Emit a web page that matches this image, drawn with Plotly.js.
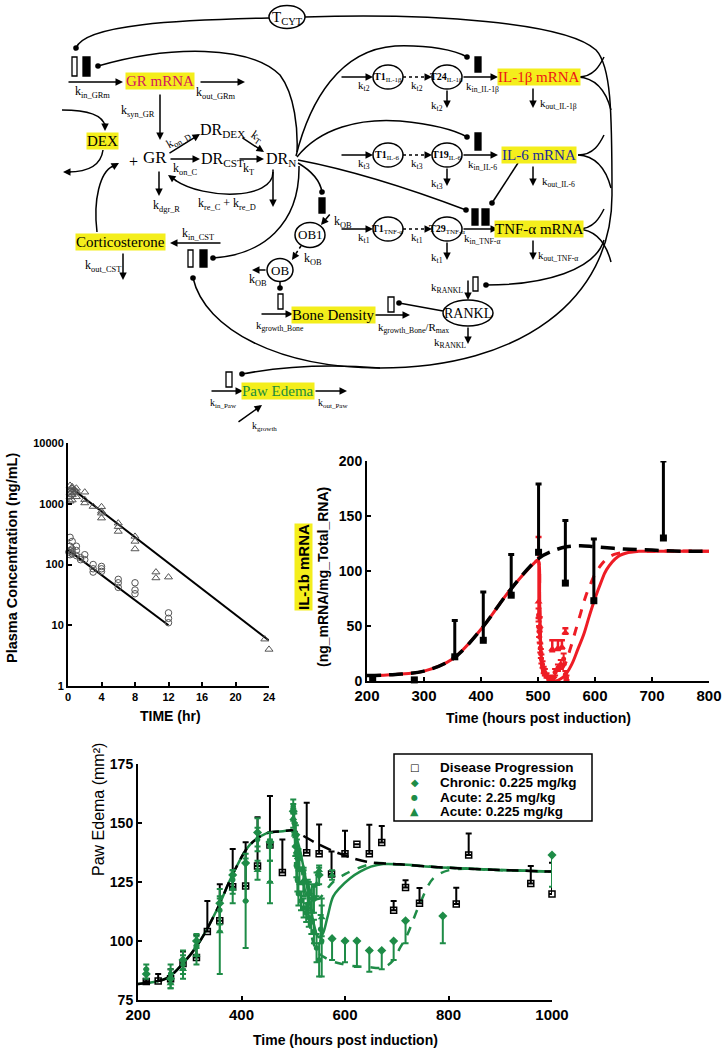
<!DOCTYPE html>
<html>
<head>
<meta charset="utf-8">
<script src="https://cdn.plot.ly/plotly-3.0.1.min.js"></script>
<style>
  html, body { margin: 0; padding: 0; background: white; }
  #plot { width: 726px; height: 1050px; }
</style>
</head>
<body>
<div id="plot"></div>
<script>
// ---- Plasma concentration (DEX PK) ----
const pkTimeHigh = [0.25, 0.25, 0.25, 0.25, 0.5, 0.5, 0.5, 0.5, 0.5, 0.75, 0.75, 1, 1, 1, 2, 2, 2, 3, 4, 4, 4, 4, 6, 6, 6, 8, 8, 8, 10.5, 10.5, 12, 23.5, 24];
const pkConcHigh = [1100, 1500, 2000, 1300, 1600, 1800, 1900, 1400, 1150, 1700, 1500, 1800, 1600, 1300, 1550, 1170, 1030, 900, 890, 700, 580, 750, 480, 420, 350, 290, 240, 180, 75, 60, 62, 5.9, 4.0];
const pkTimeLow = [0.1, 0.25, 0.25, 0.25, 0.25, 0.5, 0.5, 0.5, 0.5, 1, 1, 1, 1.5, 1.5, 2, 2, 3, 3, 3, 4, 4, 4, 6, 6, 6, 8, 8, 8, 12, 12, 12];
const pkConcLow = [160, 280, 200, 170, 145, 240, 180, 160, 150, 200, 170, 140, 120, 130, 145, 120, 100, 85, 75, 93, 85, 77, 57, 50, 42, 50, 38, 33, 16, 13, 11];
const pkFitHighT = [0.4, 24];
const pkFitHighC = [1810, 5.6];
const pkFitLowT = [0, 12];
const pkFitLowC = [174, 10];
const pkTicks = [1, 10, 100, 1000, 10000];

// ---- IL-1b mRNA ----
const ilTime = [210, 283, 354, 404, 453, 501, 548, 598, 720];
const ilMean = [2, 1, 22, 37, 78, 117, 89, 73, 130];
const ilErrUp = [2, 1, 33, 44, 37, 62, 57, 56, 70];
const ilModelT = [200, 250, 300, 350, 400, 450, 500, 525, 550, 575, 600, 650, 700, 750, 800];
const ilModelV = [5, 6, 9, 20, 47, 82, 111, 118, 122, 123, 122, 120, 119, 118, 118];
const ilSolidT = [200, 250, 300, 350, 400, 450, 495, 500, 503, 506, 510, 520, 530, 540, 550, 560, 570, 580, 590, 600, 610, 620, 640, 660, 680, 700, 800];
const ilSolidV = [5, 6, 9, 20, 47, 82, 108, 110, 70, 20, 6, 1, 0, 2, 7, 16, 29, 42, 59, 75, 89, 101, 113, 117, 118, 118, 118];
const ilDashT = [495, 500, 503, 506, 510, 520, 525, 535, 548, 557, 566, 575, 583, 592, 601, 613, 625, 640, 654, 700, 800];
const ilDashV = [108, 110, 70, 20, 6, 1, 1, 6, 16, 30, 46, 62, 76, 88, 98, 107, 113, 116, 117, 118, 118];
const ilTriT = [501, 503, 525, 535, 542, 548];
const ilTriV = [72, 50, 29, 30, 31, 44];
const ilTriErr = [59, 8, 8, 7, 6, 4];
const ilCircT = [501, 502, 503, 504, 505, 506, 508, 510, 512, 515, 520, 525, 530, 535, 540, 545, 548, 550];
const ilCircV = [60, 45, 40, 30, 25, 20, 15, 10, 8, 5, 3, 2, 8, 12, 15, 20, 6, 3];
const ilCircErr = [6, 5, 5, 4, 4, 4, 3, 3, 3, 2, 2, 2, 3, 3, 4, 5, 3, 2];

// ---- Paw edema ----
const dpTime = [216, 239, 263, 287, 313, 334, 358, 383, 408, 431, 455, 479, 526, 550, 574, 600, 623, 647, 671, 694, 717, 744, 815, 839, 959, 1000];
const dpVal = [82.8, 83, 84, 90.5, 93, 104, 108.6, 123, 123.3, 131.8, 140.7, 129, 137.4, 137, 128.4, 137, 141, 137, 141.7, 113, 122.7, 116, 115.7, 136.4, 124.4, 119.9];
const dpErr = [1, 3, 4, 5, 9.5, 13, 15.4, 16, 18.5, 20.6, 20.7, 14, 21.2, 12.4, 9.5, 9.7, 0, 12.3, 7, 4, 3, 6.5, 6.9, 9.2, 7.4, 13.3];

const chTime = [216, 263, 287, 313, 358, 383, 408, 431, 455, 500, 505, 510, 520, 530, 540, 550, 575, 600, 623, 647, 671, 694, 717, 789, 1000];
const chVal = [86, 84, 92, 100, 116, 128, 133, 146, 142, 155, 145, 135, 125, 120, 118, 128, 101, 100, 100, 96, 96, 100, 108.6, 110.6, 136.4];
const chErrUp = [2, 4, 4, 3, 2, 2, 2, 6, 1, 3, 4, 4, 5, 5, 5, 3, 0, 0, 0, 0, 0, 0, 0, 0, 0];
const chErrDn = [2, 4, 4, 3, 12, 8, 16, 6, 17, 4, 5, 5, 6, 6, 6, 4, 9, 9, 11, 9, 8, 8, 9.6, 11.6, 13.4];

const a2Time = [216, 263, 287, 313, 358, 383, 408, 431, 455, 500, 502, 504, 506, 508, 510, 515, 520, 525, 530, 535, 540, 545, 550, 553, 555];
const a2Val = [88, 86, 90, 98, 113, 126, 117, 143, 140, 157, 150, 140, 132, 126, 120, 117, 114, 112, 110, 108, 104, 97, 92, 105, 100];
const a2Err = [2, 4, 4, 4, 6, 4, 20, 5, 6, 3, 4, 4, 5, 5, 5, 4, 4, 4, 4, 5, 5, 6, 7, 6, 15];

const a0Time = [263, 287, 313, 358, 383, 431, 455, 500, 503, 507, 512, 520, 528, 536, 545, 550, 555, 575];
const a0Val = [82, 88, 94, 104, 122, 130, 125, 152, 145, 138, 130, 125, 120, 118, 124, 130, 110, 128];
const a0Err = [2, 4, 4, 18, 6, 4, 9, 4, 5, 5, 6, 6, 6, 6, 5, 2, 8, 2];

const dpModelT = [200, 255, 287, 319, 352, 384, 416, 448, 480, 500, 520, 545, 590, 642, 706, 765, 803, 900, 1000];
const dpModelV = [81.8, 84.2, 90.5, 99.7, 113, 128.7, 140.7, 145.6, 146.5, 146.8, 144.5, 141.4, 137, 133.6, 132.5, 131.5, 131, 130.1, 129.4];
const gSolidT = [200, 255, 287, 319, 352, 384, 416, 448, 480, 500, 510, 520, 530, 540, 547, 552, 558, 566, 577, 590, 610, 630, 650, 674, 706, 765, 803, 900, 1000];
const gSolidV = [81.8, 84.2, 90.5, 99.7, 113, 128.7, 140.7, 145.6, 146.5, 146.5, 141, 131, 119, 107, 102, 101.5, 103.5, 110, 118.8, 122.5, 126.6, 129.5, 131.5, 132.6, 132.5, 131.5, 131, 130.1, 129.4];
const gDashUpT = [500, 510, 520, 530, 540, 550, 560, 577, 600, 616, 640, 661, 700, 800, 1000];
const gDashUpV = [146.5, 140, 131, 123, 118, 118, 120.5, 125, 128.3, 130, 132, 133, 132.5, 131, 129.4];
const gDashLoT = [500, 510, 520, 530, 539, 548, 558, 574, 590, 610, 642, 674, 694, 706, 719, 745, 771, 803, 900, 1000];
const gDashLoV = [146.5, 138, 125, 110, 99, 95, 93.4, 91.5, 90.5, 89.5, 89, 88.8, 92, 97, 102, 116, 126.6, 130.1, 130, 129.4];

const legendNames = ['Disease Progression', 'Chronic: 0.225 mg/kg', 'Acute: 2.25 mg/kg', 'Acute: 0.225 mg/kg'];

// ---- helpers for the scheme (pixel coords -> paper) ----
const W = 726, H = 1050;
const fx = x => x / W;
const fy = y => 1 - y / H;
const shapes = [];
const annotations = [];
const SERIF = 'Liberation Serif';
const SANS = 'Liberation Sans';
const YELLOW = '#f4ee1c';
const GREEN = '#1e8c47';
const RED = '#ee1c25';

function line(x0, y0, x1, y1, dash) {
    shapes.push({type: 'line', xref: 'paper', yref: 'paper', x0: fx(x0), y0: fy(y0), x1: fx(x1), y1: fy(y1),
        line: {color: 'black', width: 1.5, dash: dash || 'solid'}});
}
function curve(d) {
    const p = d.replace(/(-?[\d.]+),(-?[\d.]+)/g, (m, a, b) => fx(+a).toFixed(5) + ',' + fy(+b).toFixed(5));
    shapes.push({type: 'path', xref: 'paper', yref: 'paper', path: p, line: {color: 'black', width: 1.5}});
}
function arrow(x0, y0, x1, y1) {
    annotations.push({xref: 'paper', yref: 'paper', x: fx(x1), y: fy(y1), ax: x0 - x1, ay: y0 - y1,
        text: '', showarrow: true, arrowhead: 2, arrowsize: 1, arrowwidth: 1.5, arrowcolor: 'black', standoff: 0});
}
function dot(x, y) {
    const r = 2.8;
    shapes.push({type: 'circle', xref: 'paper', yref: 'paper', x0: fx(x - r), x1: fx(x + r), y0: fy(y + r), y1: fy(y - r),
        fillcolor: 'black', line: {color: 'black', width: 0}});
}
function bar(x0, y0, x1, y1, filled) {
    shapes.push({type: 'rect', xref: 'paper', yref: 'paper', x0: fx(x0), x1: fx(x1), y0: fy(y1), y1: fy(y0),
        fillcolor: filled ? 'black' : 'white', line: {color: 'black', width: 1.3}});
}
function ellipse(cx, cy, rx, ry) {
    shapes.push({type: 'circle', xref: 'paper', yref: 'paper', x0: fx(cx - rx), x1: fx(cx + rx), y0: fy(cy + ry), y1: fy(cy - ry),
        fillcolor: 'white', line: {color: 'black', width: 1.5}});
}
function label(x, y, text, size, extra) {
    annotations.push(Object.assign({xref: 'paper', yref: 'paper', x: fx(x), y: fy(y), text: text, showarrow: false,
        xanchor: 'center', yanchor: 'middle', font: {family: SERIF, size: size || 12, color: 'black'}}, extra || {}));
}
function box(x, y, text, color) {
    label(x, y, text, 15, {bgcolor: YELLOW, borderpad: 0, font: {family: SERIF, size: 15, color: color}});
}

// T_CYT node
curve('M 269,18 C 180,20 85,24 76,48');
dot(76, 48);
curve('M 305,17 C 430,13 565,22 596,50 C 611,66 612,110 612,195');
ellipse(287, 17, 18, 11.5);
label(287, 18, 'T<sub>CYT</sub>', 15);

// GR mRNA / receptor part
bar(72, 57, 77, 76, false);
bar(83, 57, 90, 76, true);
dot(98, 66);
curve('M 98,66 C 170,45 250,45 280,75 C 295,95 298,130 297,152');
arrow(67, 82, 123, 82);
label(93, 92, 'k<sub>in_GRm</sub>');
box(160, 81, 'GR mRNA', '#d3145f');
arrow(199, 82, 245, 82);
label(216, 93, 'k<sub>out_GRm</sub>');
arrow(160, 93, 160, 140);
label(138, 111, 'k<sub>syn_GR</sub>');
box(102, 141, 'DEX', 'black');
curve('M 62,110 C 90,110 103,116 105,126');
arrow(105, 122, 105, 131);
curve('M 103,150 C 101,165 88,172 68,172');
arrow(72, 172, 63, 172);
label(133, 161, '+', 16);
label(155, 158, 'GR', 17);
arrow(168, 154, 200, 134);
label(178, 140, 'k<sub>on_D</sub>', 12, {textangle: -30});
label(222, 131, 'DR<sub>DEX</sub>', 16);
arrow(241, 137, 264, 152);
label(256, 137, 'k<sub>T</sub>', 12, {textangle: 35});
arrow(169, 159, 200, 159);
label(186, 169, 'k<sub>on_C</sub>');
label(222, 159, 'DR<sub>CST</sub>', 16);
arrow(238, 159, 264, 159);
label(248, 169, 'k<sub>T</sub>');
label(281, 159, 'DR<sub>N</sub>', 16);
arrow(159, 170, 159, 196);
label(166, 206, 'k<sub>dgr_R</sub>');
label(227, 204, 'k<sub>re_C</sub> + k<sub>re_D</sub>');
arrow(273, 168, 273, 207);
curve('M 273,172 C 273,200 205,200 175,180');
arrow(178, 182, 168, 175);

// corticosterone
box(120, 242, 'Corticosterone', 'black');
arrow(222, 243, 170, 243);
label(198, 234, 'k<sub>in_CST</sub>');
bar(188, 250, 193, 267, false);
bar(200, 250, 207, 267, true);
dot(213, 258);
curve('M 213,258 C 262,255 300,225 299,166');
dot(193, 278);
curve('M 193,278 C 205,330 280,368 380,368 C 520,368 612,300 612,195');
curve('M 97,232 C 93,200 100,172 113,166');
arrow(110, 168, 119, 163);
label(103, 266, 'k<sub>out_CST</sub>');
arrow(123, 252, 123, 280);

// osteoblasts, bone, RANKL
curve('M 298,163 C 310,170 320,180 322,192');
dot(322, 192);
bar(319, 198, 325, 213, true);
arrow(331, 213, 321, 225);
label(343, 222, 'k<sub>OB</sub>');
ellipse(310, 235, 15, 12.5);
label(310, 235, 'OB1', 13);
line(301, 246, 295, 255, 'dot');
arrow(296, 254, 292, 260);
label(313, 259, 'k<sub>OB</sub>');
ellipse(280, 270, 13, 11.5);
label(280, 270, 'OB', 13);
arrow(267, 270, 252, 270);
label(258, 280, 'k<sub>OB</sub>');
line(280, 282, 280, 288);
dot(280, 288);
bar(278, 294, 283, 309, false);
arrow(260, 314, 293, 314);
label(280, 326, 'k<sub>growth_Bone</sub>', 11);
box(333, 315, 'Bone Density', 'black');
arrow(374, 315, 410, 315);
label(413, 328, 'k<sub>growth_Bone</sub>/R<sub>max</sub>', 11);
bar(388, 297, 394, 312, false);
dot(399, 303);
line(399, 303, 443, 311);
ellipse(468, 313, 25, 13);
label(468, 313, 'RANKL', 14);
bar(473, 277, 478, 291, false);
dot(486, 285);
curve('M 486,285 C 545,285 595,270 604,240');
arrow(468, 279, 468, 300);
label(447, 288, 'k<sub>RANKL</sub>', 11);
arrow(468, 326, 468, 344);
label(450, 343, 'k<sub>RANKL</sub>', 11);

// DR_N fan to cytokine transcription
curve('M 296,156 C 310,100 340,50 395,46 C 430,45 455,50 467,57');
curve('M 297,157 C 320,128 360,118 400,121 C 430,124 455,130 467,137');
curve('M 298,160 C 340,168 400,185 466,210');

// cytokine transit chains
const rowY = [77, 155, 229];
const rowLast = ['T24', 'T19', 'T29'];
const rowSub = ['IL-1β', 'IL-6', 'TNF-α'];
const rowK = ['t2', 't3', 't1'];
const rowName = ['IL-1β mRNA', 'IL-6 mRNA', 'TNF-α mRNA'];
const rowColor = ['#ee1515', '#1b2a9a', 'black'];
rowY.forEach((y, i) => {
    const k = 'k<sub>' + rowK[i] + '</sub>';
    arrow(340, y, 373, y);
    label(364, y + 9, k, 11);
    line(403, y, 427, y, 'dot');
    arrow(425, y, 432, y);
    label(417, y + 9, k, 11);
    arrow(447, y + 12, 447, y + 31);
    label(437, y + 29, k, 11);
    arrow(462, y, 498, y);
    label(482, y + 10, 'k<sub>in_' + rowSub[i] + '</sub>', 11);
    arrow(533, y + 10, 533, y + 31);
    label(558, y + 27, 'k<sub>out_' + rowSub[i] + '</sub>', 11);
    curve(`M 578,${y} C 594,${y} 600,${y - 12} 604,${y - 20}`);
    curve(`M 578,${y} C 596,${y + 1} 606,${y + 14} 611,${y + 33}`);
    ellipse(388, y, 15, 12);
    label(388, y, '<b>T1</b><sub>' + rowSub[i] + '</sub>', 10);
    ellipse(447, y, 15, 12);
    label(447, y, '<b>' + rowLast[i] + '</b><sub>' + rowSub[i] + '</sub>', 10);
    box(539, y, rowName[i], rowColor[i]);
});
bar(475, 57, 481, 72, true);
dot(467, 57);
bar(475, 133, 481, 150, true);
dot(467, 137);
bar(472, 209, 478, 225, true);
bar(482, 209, 489, 225, true);
dot(466, 210);
dot(492, 203);
line(518, 163, 492, 203);

// paw edema
bar(226, 372, 232, 387, false);
dot(242, 374);
curve('M 242,374 C 285,366 330,364 380,368');
arrow(210, 391, 243, 391);
label(223, 403, 'k<sub>in_Paw</sub>', 10);
box(278, 391, 'Paw Edema', '#1a8c3c');
arrow(314, 391, 347, 391);
label(333, 403, 'k<sub>out_Paw</sub>', 10);
arrow(237, 423, 262, 405);
label(264, 426, 'k<sub>growth</sub>', 10);

// ---- chart titles ----
function title(x, y, text, size, extra) {
    annotations.push(Object.assign({xref: 'paper', yref: 'paper', x: fx(x), y: fy(y), text: text, showarrow: false,
        xanchor: 'center', yanchor: 'middle', font: {family: SANS, size: size, color: 'black', weight: 'bold'}}, extra || {}));
}
title(170, 716, 'TIME (hr)', 14);
title(12, 558, 'Plasma Concentration (ng/mL)', 14.5, {textangle: -90});
title(303, 567, 'IL-1b mRNA', 15, {textangle: -90, bgcolor: YELLOW, borderpad: 0});
title(323, 577, '(ng_mRNA/mg_Total_RNA)', 14, {textangle: -90});
title(538, 718, 'Time (hours post induction)', 14);
title(345, 1040, 'Time (hours post induction)', 14);
annotations.push({xref: 'paper', yref: 'paper', x: fx(88), y: fy(878), text: 'Paw Edema (mm²)', showarrow: false,
    textangle: -90, font: {family: SANS, size: 16, color: 'black'}});

// ---- legend of the paw edema panel (drawn as a box of text rows) ----
shapes.push({type: 'rect', xref: 'paper', yref: 'paper', x0: fx(394), x1: fx(592), y0: fy(821), y1: fy(754),
    fillcolor: 'white', line: {color: 'black', width: 1.5}});
const legendGlyphs = ['□', '◆', '●', '▲'];
const legendGlyphColor = ['black', GREEN, GREEN, GREEN];
const legendGlyphSize = [10, 10, 8, 11];
const legendRowY = [767, 782, 797, 811];
legendNames.forEach((name, i) => {
    annotations.push({xref: 'paper', yref: 'paper', x: fx(415), y: fy(legendRowY[i]), text: legendGlyphs[i], showarrow: false,
        xanchor: 'center', yanchor: 'middle', font: {family: 'DejaVu Sans', size: legendGlyphSize[i], color: legendGlyphColor[i], weight: 'bold'}});
    annotations.push({xref: 'paper', yref: 'paper', x: fx(438), y: fy(legendRowY[i]), text: name, showarrow: false,
        xanchor: 'left', yanchor: 'middle', font: {family: SANS, size: 13.5, color: 'black', weight: 'bold'}});
});

// ---- traces ----
const noLeg = {showlegend: false, hoverinfo: 'skip'};

const data = [
    // plasma
    Object.assign({x: pkFitHighT, y: pkFitHighC, mode: 'lines', line: {color: 'black', width: 2}, xaxis: 'x', yaxis: 'y'}, noLeg),
    Object.assign({x: pkFitLowT, y: pkFitLowC, mode: 'lines', line: {color: 'black', width: 2}, xaxis: 'x', yaxis: 'y'}, noLeg),
    Object.assign({x: pkTimeHigh, y: pkConcHigh, mode: 'markers', cliponaxis: false,
        marker: {symbol: 'triangle-up-open', size: 7, color: '#555', line: {width: 1}}, xaxis: 'x', yaxis: 'y'}, noLeg),
    Object.assign({x: pkTimeLow, y: pkConcLow, mode: 'markers', cliponaxis: false,
        marker: {symbol: 'circle-open', size: 6.5, color: '#555', line: {width: 1}}, xaxis: 'x', yaxis: 'y'}, noLeg),

    // IL-1b
    Object.assign({x: ilSolidT, y: ilSolidV, mode: 'lines', line: {color: RED, width: 3, shape: 'spline'}, xaxis: 'x2', yaxis: 'y2'}, noLeg),
    Object.assign({x: ilDashT, y: ilDashV, mode: 'lines', line: {color: RED, width: 3, dash: 'dash', shape: 'spline'}, xaxis: 'x2', yaxis: 'y2'}, noLeg),
    Object.assign({x: ilCircT, y: ilCircV, mode: 'markers', cliponaxis: false,
        marker: {symbol: 'circle', size: 5, color: RED},
        error_y: {type: 'data', symmetric: false, array: ilCircErr, arrayminus: ilCircErr, color: RED, thickness: 2, width: 3},
        xaxis: 'x2', yaxis: 'y2'}, noLeg),
    Object.assign({x: ilTriT, y: ilTriV, mode: 'markers', cliponaxis: false,
        marker: {symbol: 'triangle-up', size: 7, color: RED},
        error_y: {type: 'data', symmetric: false, array: ilTriErr, arrayminus: ilTriErr.map(v => v / 4), color: RED, thickness: 2.5, width: 3},
        xaxis: 'x2', yaxis: 'y2'}, noLeg),
    Object.assign({x: ilModelT, y: ilModelV, mode: 'lines', line: {color: 'black', width: 3.5, dash: '14px,8px', shape: 'spline'}, xaxis: 'x2', yaxis: 'y2'}, noLeg),
    Object.assign({x: ilTime, y: ilMean, mode: 'markers', cliponaxis: false,
        marker: {symbol: 'square', size: 7, color: 'black'},
        error_y: {type: 'data', symmetric: false, array: ilErrUp, arrayminus: ilErrUp.map(() => 0), color: 'black', thickness: 3, width: 3},
        xaxis: 'x2', yaxis: 'y2'}, noLeg),

    // paw edema lines
    Object.assign({x: gSolidT, y: gSolidV, mode: 'lines', line: {color: GREEN, width: 2.5, shape: 'spline'}, xaxis: 'x3', yaxis: 'y3'}, noLeg),
    Object.assign({x: gDashUpT, y: gDashUpV, mode: 'lines', line: {color: GREEN, width: 2.5, dash: 'dash', shape: 'spline'}, xaxis: 'x3', yaxis: 'y3'}, noLeg),
    Object.assign({x: gDashLoT, y: gDashLoV, mode: 'lines', line: {color: GREEN, width: 2.5, dash: 'dash', shape: 'spline'}, xaxis: 'x3', yaxis: 'y3'}, noLeg),
    Object.assign({x: dpModelT, y: dpModelV, mode: 'lines', line: {color: 'black', width: 2.5, dash: '12px,7px', shape: 'spline'}, xaxis: 'x3', yaxis: 'y3'}, noLeg),

    // paw edema markers
    Object.assign({x: dpTime, y: dpVal, mode: 'markers', name: legendNames[0], cliponaxis: false,
        marker: {symbol: 'square-open', size: 6, color: 'black', line: {width: 1.5}},
        error_y: {type: 'data', symmetric: false, array: dpErr, arrayminus: dpErr.map(() => 0), color: 'black', thickness: 2, width: 3},
        xaxis: 'x3', yaxis: 'y3'}, noLeg),
    Object.assign({x: chTime, y: chVal, mode: 'markers', name: legendNames[1], cliponaxis: false,
        marker: {symbol: 'diamond', size: 7, color: GREEN},
        error_y: {type: 'data', symmetric: false, array: chErrUp, arrayminus: chErrDn, color: GREEN, thickness: 2, width: 3},
        xaxis: 'x3', yaxis: 'y3'}, noLeg),
    Object.assign({x: a2Time, y: a2Val, mode: 'markers', name: legendNames[2], cliponaxis: false,
        marker: {symbol: 'circle', size: 5.5, color: GREEN},
        error_y: {type: 'data', array: a2Err, color: GREEN, thickness: 2, width: 3},
        xaxis: 'x3', yaxis: 'y3'}, noLeg),
    Object.assign({x: a0Time, y: a0Val, mode: 'markers', name: legendNames[3], cliponaxis: false,
        marker: {symbol: 'triangle-up', size: 7, color: GREEN},
        error_y: {type: 'data', array: a0Err, color: GREEN, thickness: 2, width: 3},
        xaxis: 'x3', yaxis: 'y3'}, noLeg)
];

// ---- axes ----
function axis(extra, fontSize) {
    return Object.assign({
        showline: true, linecolor: 'black', linewidth: 2, ticks: 'inside', ticklen: 4, tickwidth: 2, tickcolor: 'black',
        showgrid: false, zeroline: false, fixedrange: true,
        tickfont: {family: SANS, size: fontSize, color: 'black', weight: 'bold'}
    }, extra);
}

const layout = {
    width: W, height: H,
    margin: {l: 0, r: 0, t: 0, b: 0},
    paper_bgcolor: 'white', plot_bgcolor: 'rgba(0,0,0,0)',
    showlegend: false,
    xaxis: axis({domain: [fx(68), fx(269)], range: [0, 24], tickvals: [0, 4, 8, 12, 16, 20, 24], anchor: 'y'}, 11),
    yaxis: axis({domain: [fy(686), fy(443)], type: 'log', range: [0, 4], tickvals: pkTicks, ticktext: pkTicks.map(String), anchor: 'x'}, 11),
    xaxis2: axis({domain: [fx(367), fx(709)], range: [200, 800], dtick: 100, anchor: 'y2'}, 15),
    yaxis2: axis({domain: [fy(681), fy(461)], range: [0, 200], dtick: 50, anchor: 'x2'}, 14),
    xaxis3: axis({domain: [fx(138), fx(552)], range: [200, 1000], dtick: 200, anchor: 'y3'}, 15),
    yaxis3: axis({domain: [fy(1000), fy(764)], range: [75, 175], dtick: 25, anchor: 'x3'}, 14),
    shapes: shapes,
    annotations: annotations
};

Plotly.newPlot('plot', data, layout, {displayModeBar: false, staticPlot: true});
</script>
</body>
</html>
